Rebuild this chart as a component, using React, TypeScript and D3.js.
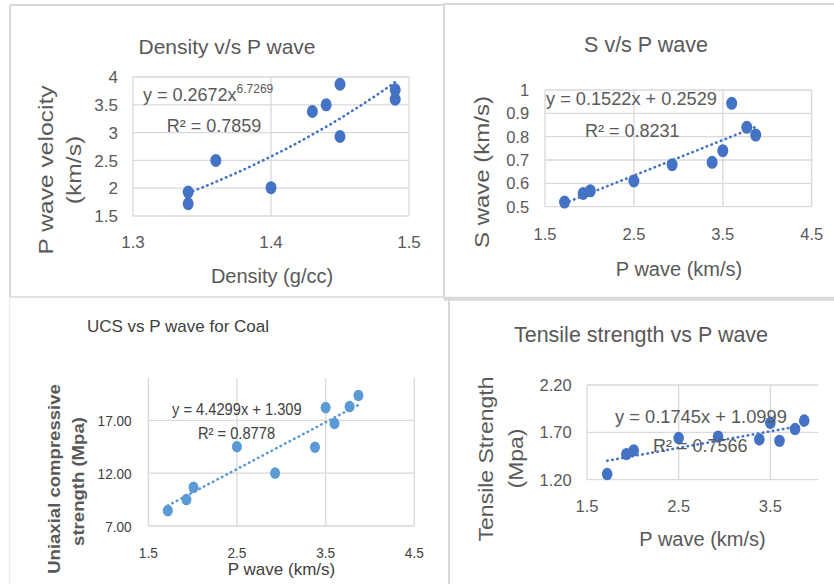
import * as d3 from "d3";

// P wave velocity of each sample (km/s), shared by all four charts
const pWave = [1.72, 1.93, 2.01, 2.5, 2.93, 3.38, 3.5, 3.6, 3.77, 3.87];
const density = [1.34, 1.34, 1.4, 1.36, 1.45, 1.43, 1.44, 1.49, 1.49, 1.45];
const sWave = [0.52, 0.557, 0.568, 0.61, 0.68, 0.69, 0.74, 0.943, 0.84, 0.807];
const ucs = [8.45, 9.5, 10.65, 14.5, 12.0, 14.45, 18.2, 16.7, 18.3, 19.35];
const tensile = [1.26, 1.47, 1.51, 1.64, 1.655, 1.625, 1.8, 1.61, 1.735, 1.825];

// tick labels
const densityTicks = [1.3, 1.4, 1.5];
const velocityTicks = [1.5, 2, 2.5, 3, 3.5, 4];
const pTicks = [1.5, 2.5, 3.5, 4.5];
const pTicksShort = [1.5, 2.5, 3.5];
const sTicks = [0.5, 0.6, 0.7, 0.8, 0.9, 1];
const ucsTicks = [7, 12, 17];
const tensileTicks = [1.2, 1.7, 2.2];

// trendline coefficients printed on the charts
const powerFit = { a: 0.2672, b: 6.7269 };
const sFit = { m: 0.1522, c: 0.2529 };
const ucsFit = { m: 4.4299, c: 1.309 };
const tensileFit = { m: 0.1745, c: 1.0999 };

const FONT = "Liberation Sans, Arial, sans-serif";
const GRAY = "#595959";
const DARK = "#404040";
const GRID = "#d9d9d9";
const BLUE = "#4472c4";
const LIGHT_BLUE = "#5b9bd5";

type TProps = {
  x: number;
  y: number;
  s: number;
  anchor?: string;
  fill?: string;
  sx?: number;
  rot?: boolean;
  weight?: string | number;
  dy?: string;
  children: any;
};

const T = ({ x, y, s, anchor = "start", fill = GRAY, sx = 1, rot = false, weight, dy, children }: TProps) => (
  <text
    transform={`translate(${x},${y})${rot ? " rotate(-90)" : ""}${sx !== 1 ? ` scale(${sx},1)` : ""}`}
    fontSize={s}
    textAnchor={anchor}
    fill={fill}
    fontWeight={weight}
    fontFamily={FONT}
    dy={dy}
  >
    {children}
  </text>
);

type PanelCfg = {
  x: d3.ScaleLinear<number, number>;
  y: d3.ScaleLinear<number, number>;
  xTicks: number[];
  yTicks: number[];
  xFmt: (v: number) => string;
  yFmt: (v: number) => string;
  xs: number[];
  ys: number[];
  fit: (v: number) => number;
  color: string;
  rx: number;
  ry: number;
  tickSize: number;
  tickSx?: number;
  tickFill?: string;
  yTickRight: number;
  xTickBase: number;
};

function Panel({ cfg }: { cfg: PanelCfg }) {
  const { x, y } = cfg;
  const [x0, x1] = x.range();
  const [yb, yt] = y.range();
  const ext = d3.extent(cfg.xs) as [number, number];
  const steps = d3.range(0, 41).map((i) => ext[0] + ((ext[1] - ext[0]) * i) / 40);
  const line = d3
    .line<number>()
    .x((d) => x(d))
    .y((d) => y(cfg.fit(d)));
  const fill = cfg.tickFill ?? GRAY;
  return (
    <g>
      {cfg.yTicks.map((t) => (
        <line key={"h" + t} x1={x0} x2={x1} y1={y(t)} y2={y(t)} stroke={GRID} strokeWidth={1.3} />
      ))}
      {cfg.xTicks.map((t) => (
        <line key={"v" + t} x1={x(t)} x2={x(t)} y1={yb} y2={yt} stroke={GRID} strokeWidth={1.3} />
      ))}
      {cfg.yTicks.map((t) => (
        <T key={"yl" + t} x={cfg.yTickRight} y={y(t)} s={cfg.tickSize} anchor="end" sx={cfg.tickSx} fill={fill} dy="0.36em">
          {cfg.yFmt(t)}
        </T>
      ))}
      {cfg.xTicks.map((t) => (
        <T key={"xl" + t} x={x(t)} y={cfg.xTickBase} s={cfg.tickSize} anchor="middle" sx={cfg.tickSx} fill={fill}>
          {cfg.xFmt(t)}
        </T>
      ))}
      {cfg.xs.map((v, i) => (
        <ellipse key={"p" + i} cx={x(v)} cy={y(cfg.ys[i])} rx={cfg.rx} ry={cfg.ry} fill={cfg.color} />
      ))}
      <path
        d={line(steps) ?? ""}
        fill="none"
        stroke={cfg.color}
        strokeWidth={2.6}
        strokeDasharray="0.5 4.6"
        strokeLinecap="round"
      />
    </g>
  );
}

export default function App() {
  const p1: PanelCfg = {
    x: d3.scaleLinear().domain([1.3, 1.5]).range([133, 409]),
    y: d3.scaleLinear().domain([1.5, 4]).range([216, 77]),
    xTicks: densityTicks,
    yTicks: velocityTicks,
    xFmt: (v) => String(v),
    yFmt: (v) => String(v),
    xs: density,
    ys: pWave,
    fit: (v) => powerFit.a * Math.pow(v, powerFit.b),
    color: BLUE,
    rx: 5.5,
    ry: 6.5,
    tickSize: 17,
    yTickRight: 118,
    xTickBase: 248,
  };
  const p2: PanelCfg = {
    x: d3.scaleLinear().domain([1.5, 4.5]).range([545, 811.7]),
    y: d3.scaleLinear().domain([0.5, 1]).range([206.7, 90]),
    xTicks: pTicks,
    yTicks: sTicks,
    xFmt: (v) => String(v),
    yFmt: (v) => String(v),
    xs: pWave,
    ys: sWave,
    fit: (v) => sFit.m * v + sFit.c,
    color: BLUE,
    rx: 5.5,
    ry: 6.5,
    tickSize: 16.5,
    yTickRight: 529.3,
    xTickBase: 240,
  };
  const p3: PanelCfg = {
    x: d3.scaleLinear().domain([1.5, 4.5]).range([148.3, 414.3]),
    y: d3.scaleLinear().domain([7, 21]).range([526, 378]),
    xTicks: pTicks,
    yTicks: ucsTicks,
    xFmt: (v) => String(v),
    yFmt: (v) => v.toFixed(2),
    xs: pWave,
    ys: ucs,
    fit: (v) => ucsFit.m * v + ucsFit.c,
    color: LIGHT_BLUE,
    rx: 5,
    ry: 5.8,
    tickSize: 15.5,
    tickSx: 0.88,
    tickFill: DARK,
    yTickRight: 131.7,
    xTickBase: 558,
  };
  const p4: PanelCfg = {
    x: d3.scaleLinear().domain([1.5, 4.02]).range([587, 818]),
    y: d3.scaleLinear().domain([1.2, 2.2]).range([479.7, 385]),
    xTicks: pTicksShort,
    yTicks: tensileTicks,
    xFmt: (v) => String(v),
    yFmt: (v) => v.toFixed(2),
    xs: pWave,
    ys: tensile,
    fit: (v) => tensileFit.m * v + tensileFit.c,
    color: BLUE,
    rx: 5.3,
    ry: 6.2,
    tickSize: 16.5,
    yTickRight: 571.7,
    xTickBase: 511.7,
  };
  // the 4.5 end of the last chart is cut off, so its grid stops at the range end
  p4.x.range([587, 818]);

  return (
    <svg width={834} height={584} style={{ position: "absolute", left: 0, top: 0, background: "#fff" }}>
      <rect width={834} height={584} fill="#fff" />
      {/* panel frames */}
      <g stroke={GRID} fill="none">
        <line x1={10} x2={444} y1={5} y2={5} strokeWidth={2} />
        <line x1={10} x2={10} y1={5} y2={297} strokeWidth={2} />
        <line x1={10} x2={444} y1={297} y2={297} strokeWidth={1.5} />
        <line x1={444} x2={444} y1={3} y2={297} strokeWidth={2} />
        <line x1={444} x2={834} y1={4} y2={4} strokeWidth={2} />
        <line x1={444} x2={834} y1={298.7} y2={298.7} strokeWidth={4} />
        <line x1={9.3} x2={9.3} y1={297} y2={584} strokeWidth={1} stroke="#e8e8e8" />
        <line x1={449} x2={449} y1={300} y2={584} strokeWidth={2} />
      </g>

      {/* Density v/s P wave */}
      <Panel cfg={p1} />
      <T x={227} y={53.5} s={21} anchor="middle">Density v/s P wave</T>
      <T x={53} y={170} s={20} anchor="middle" rot sx={1.23}>P wave velocity</T>
      <T x={81} y={170} s={20} anchor="middle" rot sx={1.23}>(km/s)</T>
      <T x={272} y={283} s={20} anchor="middle">Density (g/cc)</T>
      <T x={143} y={101} s={18}>
        y = {powerFit.a}x
        <tspan fontSize={12} dy={-8}>{powerFit.b}</tspan>
      </T>
      <T x={166.7} y={131.5} s={18}>R² = 0.7859</T>

      {/* S v/s P wave */}
      <Panel cfg={p2} />
      <T x={646} y={51.7} s={21.5} anchor="middle">S v/s P wave</T>
      <T x={489} y={172} s={20} anchor="middle" rot sx={1.2}>S wave (km/s)</T>
      <T x={679} y={276} s={20} anchor="middle">P wave (km/s)</T>
      <T x={546} y={105} s={18.2}>y = {sFit.m}x + {sFit.c}</T>
      <T x={585} y={136.7} s={18}>R² = 0.8231</T>

      {/* UCS vs P wave for Coal */}
      <Panel cfg={p3} />
      <T x={178} y={331.7} s={17} anchor="middle" fill={DARK}>UCS vs P wave for Coal</T>
      <T x={60} y={479} s={16} anchor="middle" rot sx={1.16} weight="bold">Uniaxial compressive</T>
      <T x={83.5} y={481.5} s={16} anchor="middle" rot sx={1.16} weight="bold">strength (Mpa)</T>
      <T x={281.5} y={575} s={17} anchor="middle" fill={DARK}>P wave (km/s)</T>
      <T x={172} y={415} s={16.3} sx={0.9} fill={DARK}>y = {ucsFit.m}x + {ucsFit.c}</T>
      <T x={198} y={438.5} s={16.3} sx={0.9} fill={DARK}>R² = 0.8778</T>

      {/* Tensile strength vs P wave */}
      <Panel cfg={p4} />
      <T x={641} y={341.7} s={21.5} anchor="middle">Tensile strength vs P wave</T>
      <T x={493} y={459} s={20} anchor="middle" rot sx={1.15}>Tensile Strength</T>
      <T x={523} y={458.5} s={20} anchor="middle" rot sx={1.15}>(Mpa)</T>
      <T x={702.5} y={546} s={20} anchor="middle">P wave (km/s)</T>
      <T x={615} y={423} s={18.3}>y = {tensileFit.m}x + {tensileFit.c}</T>
      <T x={653} y={451.5} s={18}>R² = 0.7566</T>
    </svg>
  );
}
